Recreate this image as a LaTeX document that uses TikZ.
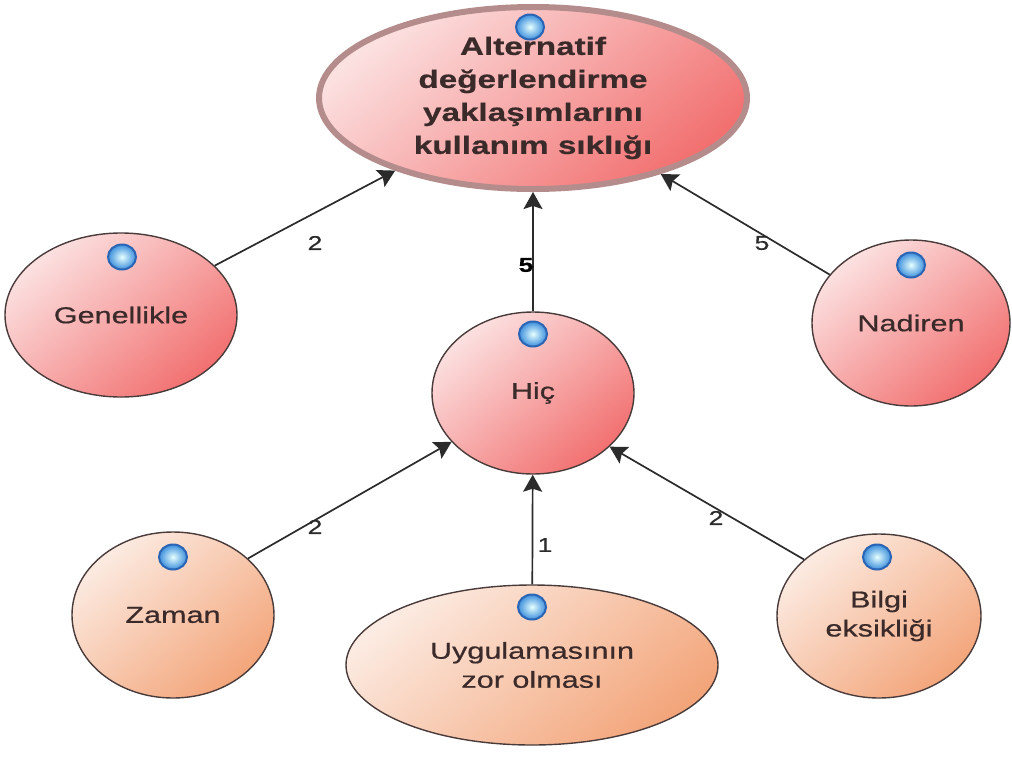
\documentclass[tikz,border=0pt]{standalone}
\usepackage{fontspec}
\setmainfont{Liberation Sans}
\newfontfamily\wide[FakeStretch=1.33,FakeBold=0.6]{Liberation Sans}
\usetikzlibrary{arrows.meta,shapes.geometric}

\definecolor{pinkLight}{HTML}{FCE1E1}
\definecolor{pinkDark}{HTML}{F27070}
\definecolor{peachLight}{HTML}{FCEBE2}
\definecolor{peachDark}{HTML}{F3A57A}
\definecolor{rimRose}{HTML}{B58C8C}
\definecolor{rimDark}{HTML}{4A3B3B}
\definecolor{inkText}{HTML}{3B2A2A}
\definecolor{wire}{HTML}{2B2B2B}
\definecolor{dotInner}{HTML}{E6FFFF}
\definecolor{dotOuter}{HTML}{3C8EDC}
\definecolor{dotRim}{HTML}{2A64B4}

\tikzset{
  bubble/.style={ellipse, inner sep=0pt, draw=rimDark, line width=1.4pt,
    align=center, text=inkText, font=\wide\fontsize{23}{29}\selectfont},
  pinkfill/.style={top color=pinkLight, bottom color=pinkDark, shading angle=40},
  peachfill/.style={top color=peachLight, bottom color=peachDark, shading angle=40},
  dot/.style={ellipse, minimum width=28pt, minimum height=25pt, inner sep=0pt,
    inner color=dotInner, outer color=dotOuter, draw=dotRim, line width=2pt},
  conn/.style={draw=wire, line width=1.7pt,
    -{Stealth[length=17pt, width=19pt, inset=3pt]}},
  wlabel/.style={font=\wide\fontsize{20}{20}\selectfont, text=wire, inner sep=0pt}
}

\begin{document}
\begin{tikzpicture}[x=1pt, y=-1pt]
  \useasboundingbox (0,0) rectangle (1012,756);

  % main topic
  \node[bubble, pinkfill, draw=rimRose, line width=6pt,
        minimum width=428pt, minimum height=182pt,
        font=\wide\bfseries\fontsize{25}{33}\selectfont] (top) at (533,98)
        {Alternatif\\değerlendirme\\yaklaşımlarını\\kullanım sıklığı};

  % frequency answers
  \node[bubble, pinkfill, minimum width=232pt, minimum height=164pt] (gen) at (121,315) {Genellikle};
  \node[bubble, pinkfill, minimum width=202pt, minimum height=162pt] (hic) at (533,393) {Hiç};
  \node[bubble, pinkfill, minimum width=198pt, minimum height=166pt] (nad) at (911,323) {Nadiren};

  % reasons
  \node[bubble, peachfill, minimum width=202pt, minimum height=166pt] (zam) at (173,615) {Zaman};
  \node[bubble, peachfill, minimum width=372pt, minimum height=160pt] (uyg) at (532,665) {Uygulamasının\\zor olması};
  \node[bubble, peachfill, minimum width=204pt, minimum height=164pt] (bil) at (879,616) {Bilgi\\eksikliği};

  % connectors
  \draw[conn] (gen) -- (top);
  \draw[conn] (hic) -- (top);
  \draw[conn] (nad) -- (top);
  \draw[conn] (zam.37) -- (hic.211);
  \draw[conn] (uyg) -- (hic);
  \draw[conn] (bil.143) -- (hic.325);

  % connector weights
  \node[wlabel] (w1) at (315,243) {2};
  \node[wlabel, font=\wide\bfseries\fontsize{20}{20}\selectfont, text=black] (w2) at (526,265) {5};
  \node[wlabel] (w3) at (762,243) {5};
  \node[wlabel] (w4) at (315,527) {2};
  \node[wlabel] (w5) at (545,545) {1};
  \node[wlabel] (w6) at (716,518) {2};

  % marker dots
  \node[dot] (d1) at (530,27) {};
  \node[dot] (d2) at (122,257) {};
  \node[dot] (d3) at (533,334) {};
  \node[dot] (d4) at (911,265) {};
  \node[dot] (d5) at (173,557) {};
  \node[dot] (d6) at (532,607) {};
  \node[dot] (d7) at (877,557) {};
\end{tikzpicture}
\end{document}
